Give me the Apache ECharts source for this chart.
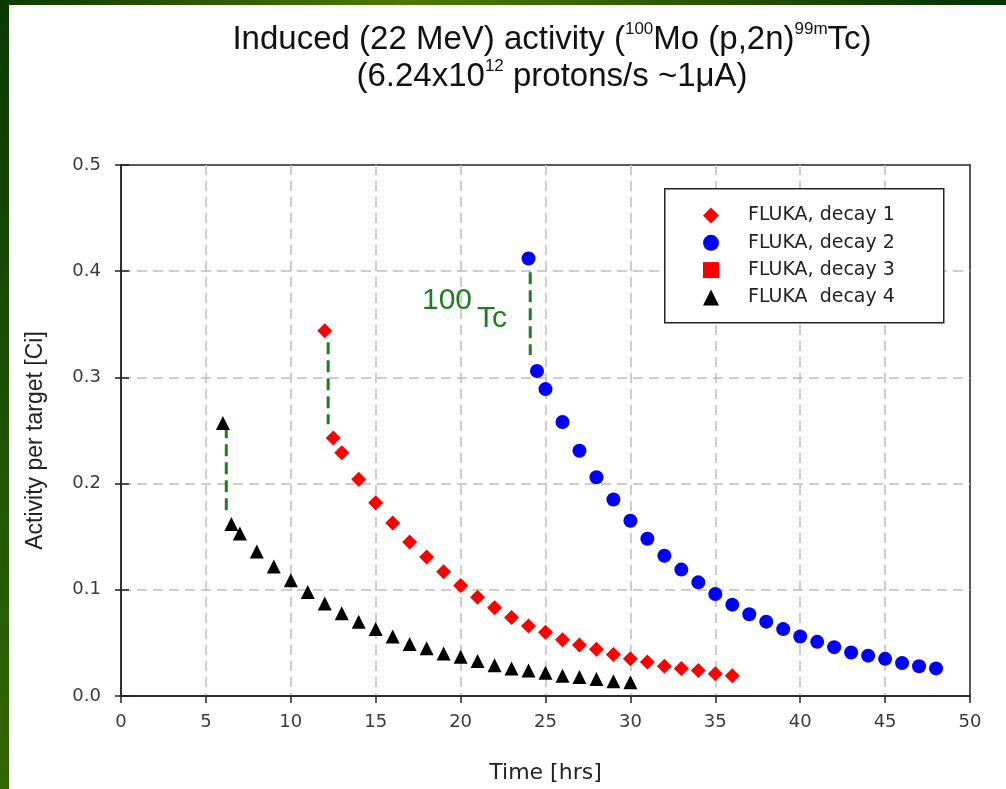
<!DOCTYPE html>
<html>
<head>
<meta charset="utf-8">
<script src="https://cdn.jsdelivr.net/npm/echarts@6/dist/echarts.min.js"></script>
<style>
html,body{margin:0;padding:0;background:#fff;}
#chart{width:1006px;height:789px;}
</style>
</head>
<body>
<div id="chart"></div>
<script>
// ---- data ----
const decay1Time = [12,12.5,13,14,15,16,17,18,19,20,21,22,23,24,25,26,27,28,29,30,31,32,33,34,35,36];
const decay1Act  = [0.344,0.243,0.229,0.204,0.182,0.163,0.145,0.131,0.117,0.104,0.093,0.083,0.074,0.066,0.060,0.053,0.048,0.044,0.039,0.035,0.032,0.028,0.026,0.024,0.021,0.019];
const decay2Time = [24,24.5,25,26,27,28,29,30,31,32,33,34,35,36,37,38,39,40,41,42,43,44,45,46,47,48];
const decay2Act  = [0.412,0.306,0.289,0.258,0.231,0.206,0.185,0.165,0.148,0.132,0.119,0.107,0.096,0.086,0.077,0.070,0.063,0.056,0.051,0.046,0.041,0.038,0.035,0.031,0.028,0.026];
const decay3Time = [];
const decay3Act  = [];
const decay4Time = [6,6.5,7,8,9,10,11,12,13,14,15,16,17,18,19,20,21,22,23,24,25,26,27,28,29,30];
const decay4Act  = [0.257,0.162,0.153,0.136,0.122,0.109,0.098,0.087,0.078,0.070,0.063,0.056,0.049,0.045,0.040,0.037,0.033,0.029,0.026,0.024,0.022,0.019,0.018,0.016,0.014,0.013];
// 100Tc contribution markers (dashed green drops)
const tcLineX      = [6.2, 12.2, 24.1];
const tcLineTop    = [0.254, 0.333, 0.399];
const tcLineBottom = [0.175, 0.256, 0.321];
const seriesNames = ['FLUKA, decay 1','FLUKA, decay 2','FLUKA, decay 3','FLUKA  decay 4'];
const xTicks = [0,5,10,15,20,25,30,35,40,45,50];
const yTicks = [0.0,0.1,0.2,0.3,0.4,0.5];

const zip = (xs, ys) => xs.map((x, i) => [x, ys[i]]);
const FONT = 'Liberation Sans, Arial, sans-serif';
const WIDE = 'DejaVu Sans, sans-serif';
const GREEN = '#1f7d1f';

const tcSeries = tcLineX.map((x, i) => ({
  type: 'line', name: 'tc' + i, data: [[x, tcLineTop[i]], [x, tcLineBottom[i]]],
  symbol: 'none', silent: true, z: 1,
  lineStyle: { color: GREEN, width: 3, type: [12, 6] }
}));

const chart = echarts.init(document.getElementById('chart'), null, { renderer: 'canvas' });
chart.setOption({
  animation: false,
  backgroundColor: '#fff',
  title: {
    left: 547, top: 16, textAlign: 'center',
    text: '{a|Induced (22 MeV) activity (}{s|100}{a|Mo (p,2n)}{s|99m}{a|Tc)}\n{a|(6.24x10}{s|12}{a| protons/s ~1}{a|\u03bcA)}',
    textStyle: {
      fontWeight: 'normal',
      rich: {
        a: { fontSize: 33, fontFamily: FONT, fontWeight: 'normal', color: '#111', lineHeight: 37 },
        s: { fontSize: 17, fontFamily: FONT, fontWeight: 'normal', color: '#111', lineHeight: 20, verticalAlign: 'top' }
      }
    }
  },
  grid: { left: 121, right: 36, top: 165, bottom: 92, show: true, borderColor: '#222', borderWidth: 1.5, containLabel: false },
  xAxis: {
    type: 'value', min: 0, max: 50, interval: 5,
    name: 'Time [hrs]', nameLocation: 'middle', nameGap: 66,
    nameTextStyle: { fontSize: 22, fontFamily: WIDE, color: '#222' },
    axisLine: { lineStyle: { color: '#222', width: 1.5 } },
    axisTick: { show: true, inside: false, length: 7, lineStyle: { color: '#222', width: 1.5 } },
    axisLabel: { fontSize: 18, fontFamily: WIDE, color: '#3a3a3a', margin: 17,
      formatter: v => xTicks.includes(v) ? String(v) : '' },
    splitLine: { show: true, showMinLine: false, showMaxLine: false, lineStyle: { color: '#bdbdbd', width: 1.5, type: [10, 6] } }
  },
  yAxis: [{
    type: 'value', min: 0, max: 0.5, interval: 0.1,
    name: 'Activity per target [Ci]', nameLocation: 'middle', nameGap: 74, nameRotate: 90,
    nameTextStyle: { fontSize: 23, fontFamily: FONT, color: '#222', padding: [0, 20, 0, 0] },
    axisLine: { show: true, lineStyle: { color: '#222', width: 1.5 } },
    axisTick: { show: true, inside: false, length: 6, lineStyle: { color: '#222', width: 1.5 } },
    axisLabel: { fontSize: 18, fontFamily: WIDE, color: '#3a3a3a', margin: 20,
      formatter: v => yTicks.some(t => Math.abs(t - v) < 1e-9) ? v.toFixed(1) : '' },
    splitLine: { show: true, showMinLine: false, showMaxLine: false, lineStyle: { color: '#bdbdbd', width: 1.5, type: [10, 6] } }
  }, {
    type: 'value', min: 0, max: 0.5, interval: 0.1, position: 'left',
    axisLine: { show: false },
    axisTick: { show: true, inside: true, length: 8, lineStyle: { color: '#222', width: 1.5 } },
    axisLabel: { show: false }, splitLine: { show: false }
  }],
  legend: {
    orient: 'vertical', left: 698, top: 201, itemGap: 8.3, itemWidth: 16, itemHeight: 16, z: 10,
    data: seriesNames,
    textStyle: { fontSize: 19, lineHeight: 16, fontFamily: WIDE, color: '#222', padding: [0, 0, 0, 24] }
  },
  graphic: [
    { type: 'rect', left: 0, top: 0, z: 100, shape: { width: 9, height: 789 },
      style: { fill: new echarts.graphic.LinearGradient(0, 0, 0, 1, [{ offset: 0, color: '#0a3a00' }, { offset: 1, color: '#336600' }]) } },
    { type: 'rect', left: 0, top: 0, z: 100, shape: { width: 1006, height: 5 },
      style: { fill: new echarts.graphic.LinearGradient(0, 0, 1, 0, [{ offset: 0, color: '#0a3a00' }, { offset: 0.4, color: '#4f7800' }, { offset: 1, color: '#003300' }]) } },
    { type: 'rect', left: 664, top: 188, z: 2, shape: { width: 279, height: 134 },
      style: { fill: '#fff', stroke: '#222', lineWidth: 1.5 } },
    { type: 'text', left: 422, top: 286, z: 5,
      style: { text: '100', font: '30px Liberation Sans, Arial, sans-serif', fill: GREEN } },
    { type: 'text', left: 477, top: 304, z: 5,
      style: { text: 'Tc', font: '30px Liberation Sans, Arial, sans-serif', fill: GREEN } }
  ],
  series: [
    { type: 'scatter', name: seriesNames[0], data: zip(decay1Time, decay1Act), symbol: 'diamond', symbolSize: 15, itemStyle: { color: '#ff0000', opacity: 1 }, z: 3 },
    { type: 'scatter', name: seriesNames[1], data: zip(decay2Time, decay2Act), symbol: 'circle', symbolSize: 14, itemStyle: { color: '#0000ff', opacity: 1 }, z: 3 },
    { type: 'scatter', name: seriesNames[2], data: zip(decay3Time, decay3Act), symbol: 'rect', symbolSize: 13, itemStyle: { color: '#ff0000', opacity: 1 }, z: 3 },
    { type: 'scatter', name: seriesNames[3], data: zip(decay4Time, decay4Act), symbol: 'triangle', symbolSize: 14, itemStyle: { color: '#000000', opacity: 1 }, z: 3 },
    ...tcSeries
  ]
});
</script>
</body>
</html>
